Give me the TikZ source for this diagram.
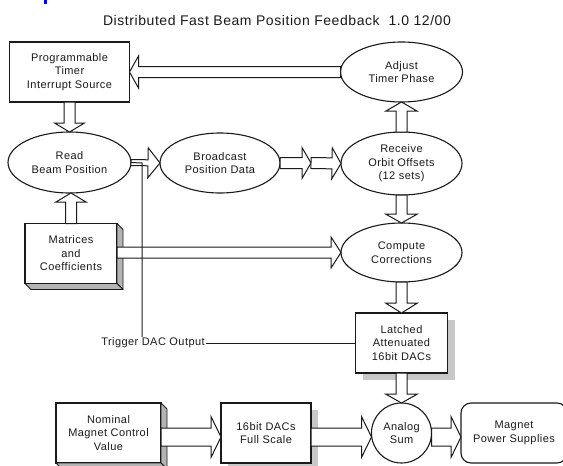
\documentclass[tikz,border=0pt]{standalone}
\usepackage{fontspec}
\setmainfont{Liberation Sans}
\newfontfamily\diagfont[LetterSpace=4]{Liberation Sans}
\usetikzlibrary{calc,shapes.geometric,shadows}
\definecolor{diagink}{HTML}{1A1A1A}
\definecolor{shadegray}{HTML}{C8C8C8}
\definecolor{sidegray}{HTML}{B4B4B4}
\definecolor{markblue}{HTML}{0000F0}

% hollow block arrow: from, to, shaft half width, head half width, head length
\newcommand{\hollowarrow}[5]{%
  \coordinate (hbase) at ($(#2)!#5!(#1)$);
  \draw[fatarrow] ($(#1)!#3!90:(#2)$) -- ($(hbase)!#3!90:(#2)$)
    -- ($(hbase)!#4!90:(#2)$) -- (#2) -- ($(hbase)!#4!-90:(#2)$)
    -- ($(hbase)!#3!-90:(#2)$) -- ($(#1)!#3!-90:(#2)$) -- cycle;}

\begin{document}
\begin{tikzpicture}[
  x=1pt,
  y=-1pt,
  every node/.style={font=\diagfont\fontsize{11}{13.5}\selectfont, text=diagink,
                     align=center, inner sep=0pt, outer sep=0pt},
  titletext/.style={font=\diagfont\fontsize{14}{16}\selectfont},
  plainbox/.style={draw=diagink, line width=1.1pt, fill=white,
                   minimum width=#1, minimum height=60pt},
  shadebox/.style={plainbox=#1,
                   general shadow={fill=shadegray, shadow xshift=7pt, shadow yshift=-7pt}},
  slabbox/.style={plainbox=#1},
  oval/.style 2 args={ellipse, draw=diagink, line width=1.1pt, fill=white,
                      minimum width=#1, minimum height=#2},
  sumnode/.style={circle, draw=diagink, line width=1.1pt, fill=white, minimum size=60pt},
  roundbox/.style={draw=diagink, line width=1.1pt, fill=white, rounded corners=10pt,
                   minimum width=106pt, minimum height=60pt},
  sideface/.style={draw=diagink, line width=0.9pt, fill=sidegray, line join=round},
  fatarrow/.style={draw=diagink, line width=1pt, fill=white, line join=miter},
  wire/.style={diagink, line width=1pt}
]
  \useasboundingbox (0,0) rectangle (563,466);
  \clip (0,0) rectangle (563,466);

  % ---- heading ----
  \fill[markblue] (44,0) rectangle (47,4);
  \node[titletext] (title) at (277,20) {Distributed Fast Beam Position Feedback\ \ 1.0 12/00};

  % ---- upper blocks ----
  \node[plainbox=120pt] (timer) at (69.5,72) {Programmable\\Timer\\Interrupt Source};
  \node[oval={122pt}{60pt}] (adjust) at (401.5,72) {Adjust\\Timer Phase};
  \node[oval={123pt}{61pt}] (read) at (69.5,162.5) {Read\\Beam Position};
  \node[oval={120pt}{60pt}] (broadcast) at (220,163) {Broadcast\\Position Data};
  \node[oval={121pt}{63pt}] (receive) at (401.5,163.5) {Receive\\Orbit Offsets\\(12 sets)};
  \node[slabbox=92pt] (matrices) at (71,253.5) {Matrices\\and\\Coefficients};
  \node[oval={121pt}{59pt}] (compute) at (401.5,252.5) {Compute\\Corrections};
  \node[shadebox=92pt] (latched) at (401.5,343) {Latched\\Attenuated\\16bit DACs};
  \node[inner sep=1pt] (trig) at (153,343) {Trigger DAC Output};

  % ---- output row ----
  \node[slabbox=105pt] (nominal) at (108.5,433) {Nominal\\Magnet Control\\Value};
  \node[shadebox=90pt] (dacs) at (266,433) {16bit DACs\\Full Scale};
  \node[sumnode] (analog) at (401.5,433) {Analog\\Sum};
  \node[roundbox] (magnet) at (514,433) {Magnet\\Power Supplies};

  % ---- raised sides of the slabs ----
  \foreach \slab in {matrices,nominal} {
    \filldraw[sideface] (\slab.north east) -- ++(6,6) -- ($(\slab.south east)+(6,6)$)
      -- (\slab.south east) -- cycle;
    \filldraw[sideface] (\slab.south west) -- ++(6,6) -- ($(\slab.south east)+(6,6)$)
      -- (\slab.south east) -- cycle;
  }

  % ---- block arrows ----
  \coordinate (relay) at (311,163);
  \coordinate (nomout) at ($(nominal.east)+(0,4)$);
  \hollowarrow{adjust.west}{timer.east}{5.5pt}{16pt}{9pt}
  \hollowarrow{timer.south}{read.north}{5.5pt}{15pt}{9pt}
  \hollowarrow{matrices.north}{matrices.north |- read.south}{5.5pt}{15pt}{9pt}
  \hollowarrow{read.east}{broadcast.west}{3pt}{15pt}{12pt}
  \hollowarrow{broadcast.east}{relay}{5.5pt}{15.5pt}{9pt}
  \hollowarrow{relay}{receive.west}{5.5pt}{15.5pt}{9pt}
  \hollowarrow{receive.north}{adjust.south}{5.5pt}{15.5pt}{9pt}
  \hollowarrow{receive.south}{compute.north}{5.5pt}{16pt}{9pt}
  \hollowarrow{matrices.east |- compute.west}{compute.west}{5.5pt}{15.5pt}{10pt}
  \hollowarrow{compute.south}{latched.north}{5.5pt}{16pt}{10pt}
  \hollowarrow{latched.south}{analog.north}{5.5pt}{16pt}{9pt}
  \hollowarrow{nomout}{nomout -| dacs.west}{9pt}{20.5pt}{10pt}
  \hollowarrow{nomout -| dacs.east}{nomout -| analog.west}{9pt}{20.5pt}{10pt}
  \hollowarrow{nomout -| analog.east}{nomout -| magnet.west}{9pt}{20.5pt}{10pt}

  % ---- trigger line ----
  \coordinate (tap) at (142,163);
  \draw[wire] (read.east) -- (tap) -- (tap |- trig.north);
  \draw[wire] (trig.east) -- (latched.west);
\end{tikzpicture}
\end{document}
